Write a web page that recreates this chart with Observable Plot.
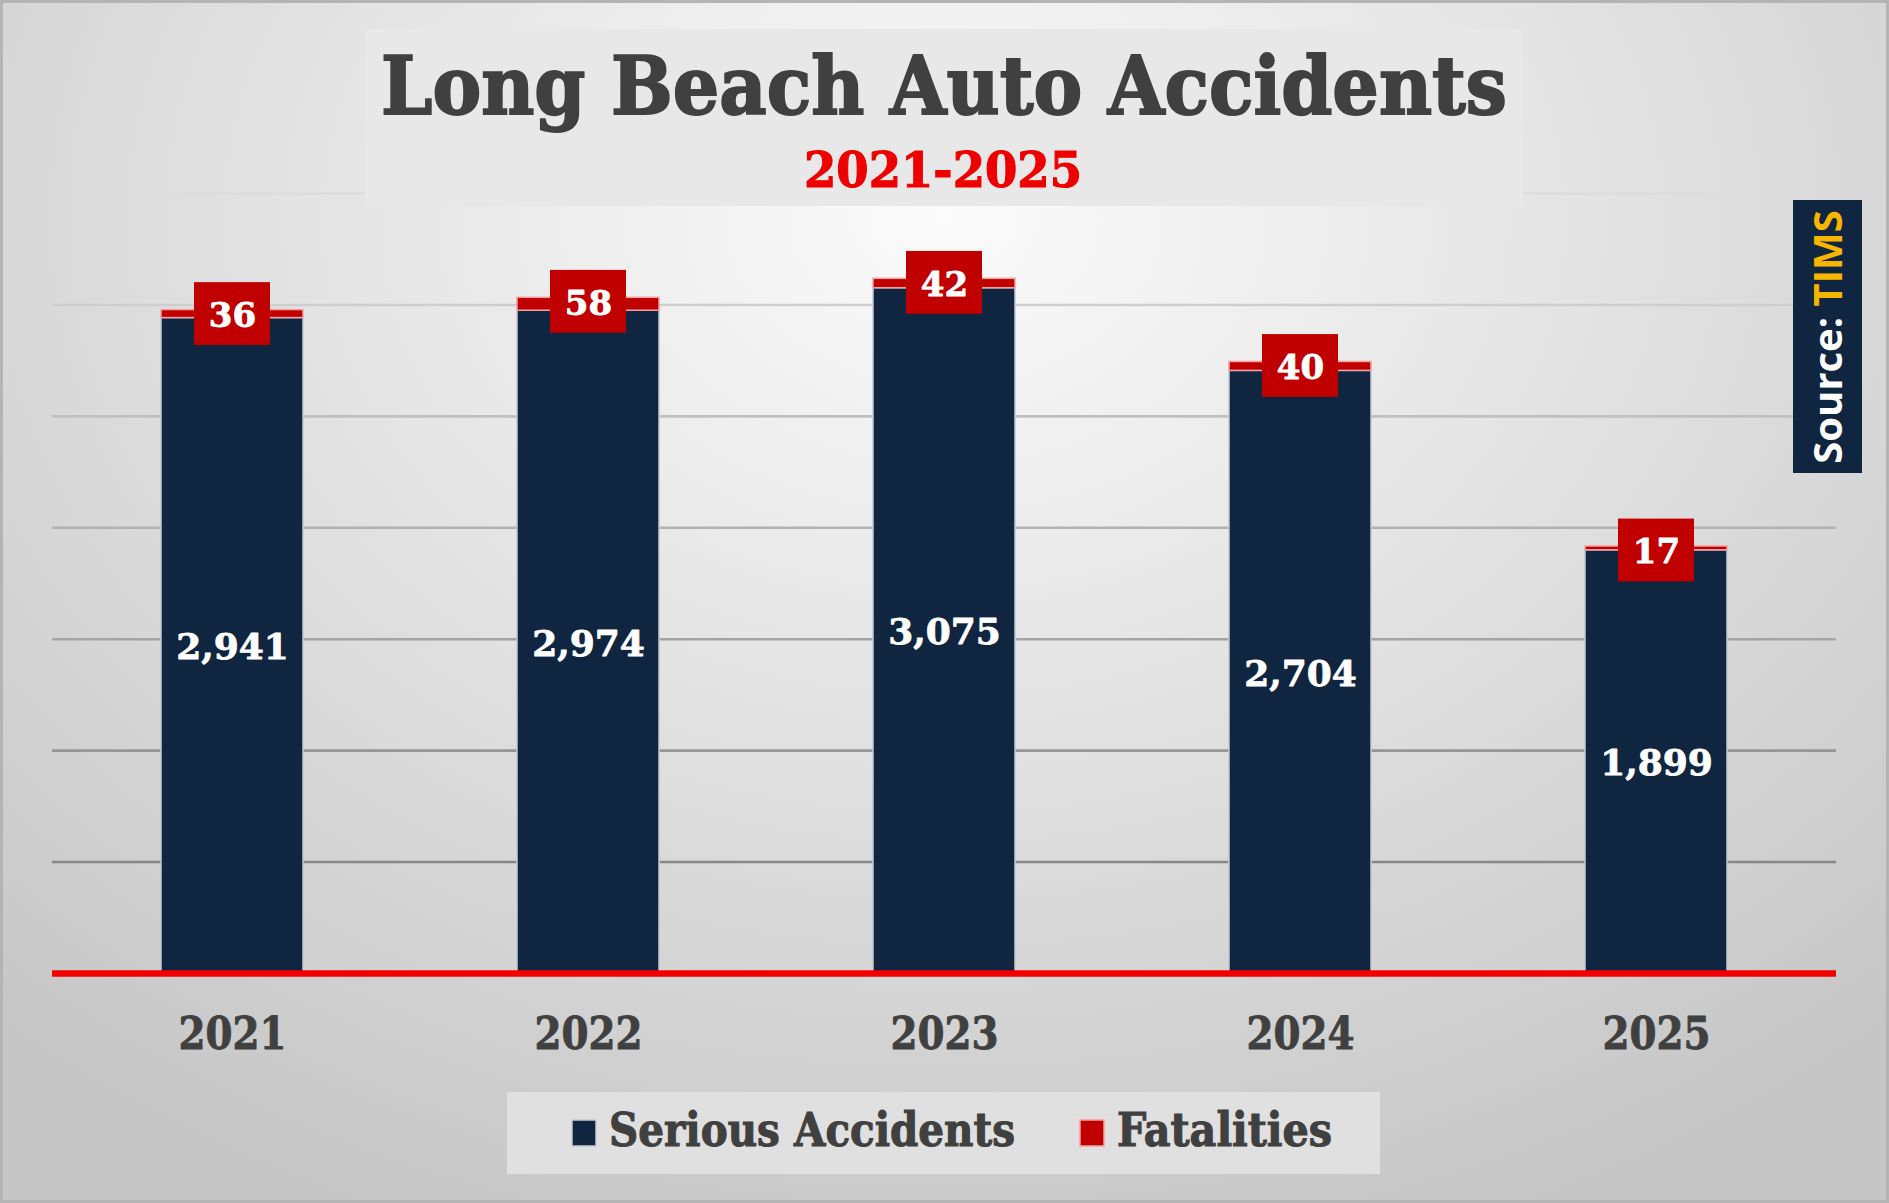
<!DOCTYPE html>
<html>
<head>
<meta charset="utf-8">
<script src="https://cdn.jsdelivr.net/npm/d3@7"></script>
<script src="https://cdn.jsdelivr.net/npm/@observablehq/plot@0.6"></script>
<style>
  html, body { margin: 0; padding: 0; }
  #wrap {
    position: relative; width: 1889px; height: 1203px; overflow: hidden;
    box-sizing: border-box; border: 3px solid #b4b4b4;
    background: radial-gradient(ellipse 75% 90% at 50% 18%, #fbfbfb 0%, #e9e9e9 35%, #d6d6d6 70%, #c6c6c6 100%);
  }
  #wrap svg { position: absolute; left: -3px; top: -3px; max-width: none !important; }
</style>
</head>
<body>
<div id="wrap"></div>
<script>
// ---- data ----
const years = ["2021", "2022", "2023", "2024", "2025"];
const serious = [2941, 2974, 3075, 2704, 1899];
const fatalities = [36, 58, 42, 40, 17];
const yTicks = [500, 1000, 1500, 2000, 2500, 3000, 3500];
const seriesNames = ["Serious Accidents", "Fatalities"];
const seriesColors = ["#10253f", "#c00000"];
const titleText = "Long Beach Auto Accidents";
const subtitleText = "2021-2025";
const sourceLabel = "Source: ";
const sourceName = "TIMS";

const idx = years.map((_, i) => i);
const fmt = d3.format(",");
const serif = "'DejaVu Serif', serif";
const serifC = "'DejaVu Serif Condensed', 'DejaVu Serif', serif";
const gridColor = v => d3.interpolateRgb("#888888", "#dcdcdc")((v - 500) / 3000);

const chart = Plot.plot({
  width: 1889,
  height: 1203,
  marginLeft: 52,
  marginRight: 53,
  marginTop: 193,
  marginBottom: 230,
  style: { background: "transparent", overflow: "visible", maxWidth: "none" },
  x: { domain: years, paddingInner: 0.6, paddingOuter: 0.3, axis: null },
  y: { domain: [0, 3500], axis: null },
  color: { type: "identity" },
  marks: [
    Plot.ruleY(yTicks, { stroke: d => gridColor(d), strokeWidth: 2.6 }),
    Plot.barY(idx, { x: i => years[i], y1: 0, y2: i => serious[i], fill: seriesColors[0], stroke: "#c3cad3", strokeWidth: 1.5 }),
    Plot.barY(idx, { x: i => years[i], y1: i => serious[i], y2: i => serious[i] + fatalities[i], fill: seriesColors[1], stroke: "#f2a0a0", strokeWidth: 1.5 }),
    Plot.ruleY([0], { stroke: "#f20000", strokeWidth: 6.5 }),
    Plot.barY(idx, {
      x: i => years[i],
      y1: i => serious[i] + fatalities[i] - 18 - 141,
      y2: i => serious[i] + fatalities[i] - 18 + 141,
      fill: seriesColors[1], insetLeft: 33, insetRight: 33
    }),
    Plot.text(idx, {
      x: i => years[i], y: i => serious[i] + fatalities[i] - 18, text: i => String(fatalities[i]), dy: 2,
      fill: "white", stroke: "white", strokeWidth: 0.8, fontSize: 34, fontWeight: "bold", fontFamily: serif
    }),
    Plot.text(idx, {
      x: i => years[i], y: i => serious[i] / 2, text: i => fmt(serious[i]), dy: 2,
      fill: "white", stroke: "white", strokeWidth: 0.8, fontSize: 36, fontWeight: "bold", fontFamily: serif
    }),
    Plot.text(years, {
      x: d => d, frameAnchor: "bottom", lineAnchor: "middle", dy: 61, text: d => d,
      fill: "#404040", stroke: "#404040", strokeWidth: 0.8, fontSize: 44, fontWeight: "bold", fontFamily: serifC
    })
  ]
});
document.getElementById("wrap").appendChild(chart);

// fit x-axis labels width
d3.select(chart).selectAll("text").filter(function () { return years.includes(this.textContent); })
  .attr("textLength", 108).attr("lengthAdjust", "spacingAndGlyphs");

// ---- overlay: title, legend, source ----
const svg = d3.select(chart);
const ov = svg.append("g").attr("text-anchor", "start");

// title box
ov.append("rect").attr("x", 365).attr("y", 29).attr("width", 1158).attr("height", 177).attr("fill", "#e8e8e8");
ov.append("text").attr("x", 381).attr("y", 114).attr("text-anchor", "start").text(titleText)
  .attr("fill", "#404040").attr("stroke", "#404040").attr("stroke-width", 2)
  .attr("font-family", serif).attr("font-weight", "bold").attr("font-size", 81)
  .attr("textLength", 1126).attr("lengthAdjust", "spacingAndGlyphs");
ov.append("text").attr("x", 943).attr("y", 187).attr("text-anchor", "middle").text(subtitleText)
  .attr("fill", "#ee0000").attr("stroke", "#ee0000").attr("stroke-width", 1)
  .attr("font-family", serifC).attr("font-weight", "bold").attr("font-size", 48)
  .attr("textLength", 278).attr("lengthAdjust", "spacingAndGlyphs");

// legend
ov.append("rect").attr("x", 507).attr("y", 1092).attr("width", 873).attr("height", 82).attr("fill", "#e0e0e0");
const legendItems = [
  { name: seriesNames[0], color: seriesColors[0], stroke: "#c3cad3", sx: 572, tx: 609, tw: 406 },
  { name: seriesNames[1], color: seriesColors[1], stroke: "#f2a0a0", sx: 1080, tx: 1117, tw: 215 }
];
legendItems.forEach(it => {
  ov.append("rect").attr("x", it.sx).attr("y", 1120).attr("width", 24).attr("height", 26)
    .attr("fill", it.color).attr("stroke", it.stroke).attr("stroke-width", 1.5);
  ov.append("text").attr("x", it.tx).attr("y", 1146).attr("text-anchor", "start").text(it.name)
    .attr("fill", "#404040").attr("stroke", "#404040").attr("stroke-width", 1)
    .attr("font-family", serifC).attr("font-weight", "bold").attr("font-size", 46)
    .attr("textLength", it.tw).attr("lengthAdjust", "spacingAndGlyphs");
});

// source box
ov.append("rect").attr("x", 1793).attr("y", 200).attr("width", 69).attr("height", 273).attr("fill", "#10253f");
const st = ov.append("text").attr("transform", "translate(1842,337) rotate(-90)")
  .attr("text-anchor", "middle").attr("font-family", "'Open Sans', sans-serif").attr("font-weight", "bold")
  .attr("font-size", 40);
st.append("tspan").attr("fill", "white").text(sourceLabel);
st.append("tspan").attr("fill", "#f7b500").text(sourceName);
</script>
</body>
</html>
